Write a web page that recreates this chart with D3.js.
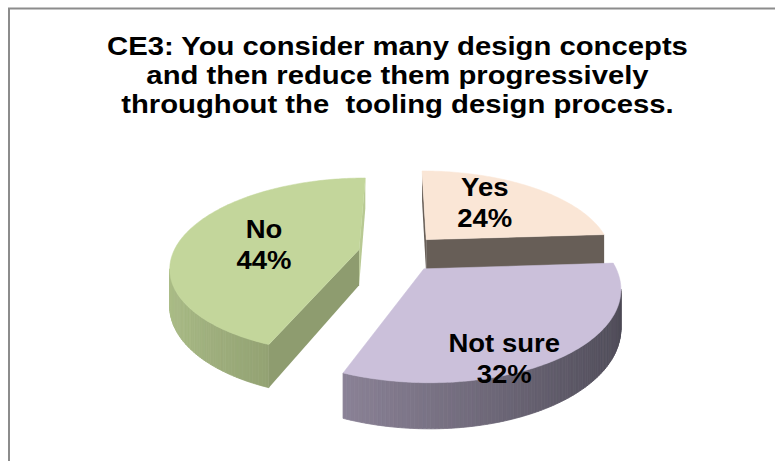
<!DOCTYPE html>
<html><head><meta charset="utf-8">
<script src="https://cdn.jsdelivr.net/npm/d3@7/dist/d3.min.js"></script>
<style>html,body{margin:0;padding:0;background:#fff;} svg{display:block;}</style>
</head><body>
<svg id="chart" width="775" height="461"></svg>
<script>
// ---- data ----
const categories = ["Yes", "Not sure", "No"];
const values = [24, 32, 44];
const percentLabels = ["24%", "32%", "44%"];
const titleLines = [
  "CE3: You consider many design concepts",
  "and then reduce them progressively",
  "throughout the  tooling design process."
];

// ---- styles ----
const topColors   = ["#FAE6D6", "#CBC0DA", "#C3D69B"];
const sideDark    = ["#5E554E", "#4C4955", "#93A273"];
const sideLight   = ["#B9A89A", "#A79CB4", "#ACBE89"];
const sideDomain  = [[0, 1], [0, 1], [0.684, 1]];
const wallStart   = ["#675E57", "#5F5A68", "#8E9C6F"];
const wallEnd     = ["#675E57", "#5F5A68", "#B8C993"];
const drawOrder   = [0, 2, 1];

// ---- layout ----
const L = {cx: 399, cy: 253, A: 186, B: 86, persp: 0.186, T: 36, explode: 0.22,
           labelR: 0.55, titleX: 397.5, titleY: 55, titleStep: 29,
           titleStretch: 1.17, labelStretch: 1.1, labelStep: 31};
const labelNudge = [[-3, -7], [10, 45], [2, 4]];

const svg = d3.select("#chart");
svg.append("rect").attr("width", 775).attr("height", 461).attr("fill", "#fff");
svg.append("rect").attr("x", 9).attr("y", 8.5).attr("width", 900).attr("height", 600)
  .attr("fill", "none").attr("stroke", "#8c8c8c").attr("stroke-width", 2);

// scales for the projected pie plane
const xScale = d3.scaleLinear().domain([-1, 1]).range([L.cx - L.A, L.cx + L.A]);
const zScale = d3.scaleLinear().domain([-1, 1]).range([L.cy + L.B, L.cy - L.B]);
const hScale = d3.scaleLinear().domain([0, 1]).range([0, L.T]);

function proj(X, Z, h) {
  const d = 1 + L.persp * Z;
  return [xScale(X / d), zScale(Z / d) + hScale(h) / d];
}
function area(pts) {
  let s = 0;
  for (let i = 0; i < pts.length; i++) {
    const a = pts[i], b = pts[(i + 1) % pts.length];
    s += a[0] * b[1] - b[0] * a[1];
  }
  return s / 2;
}
const line = d3.line().curve(d3.curveLinearClosed);

const arcs = d3.pie().sort(null).value(d => d).startAngle(0).endAngle(2 * Math.PI)(values);

const gPie = svg.append("g");
drawOrder.forEach(i => {
  const a = arcs[i];
  const mid = (a.startAngle + a.endAngle) / 2;
  const ox = L.explode * Math.sin(mid), oz = L.explode * Math.cos(mid);
  const rim = (t, h) => proj(ox + Math.sin(t), oz + Math.cos(t), h);
  const apex = h => proj(ox, oz, h);
  const g = gPie.append("g");
  const n = Math.max(8, Math.ceil((a.endAngle - a.startAngle) / (Math.PI / 180)));
  const angles = d3.range(n + 1).map(k => a.startAngle + (a.endAngle - a.startAngle) * k / n);
  const shade = d3.scaleLinear().domain(sideDomain[i]).range([sideDark[i], sideLight[i]])
    .interpolate(d3.interpolateRgb).clamp(true);
  // outer side
  for (let k = 0; k < n; k++) {
    const t0 = angles[k], t1 = angles[k + 1];
    const q = [rim(t0, 0), rim(t1, 0), rim(t1, 1), rim(t0, 1)];
    if (area(q) < 0) {
      const tm = (t0 + t1) / 2;
      const c = shade((1 - Math.sin(tm)) / 2);
      g.append("path").attr("d", line(q)).attr("fill", c).attr("stroke", c).attr("stroke-width", 0.8);
    }
  }
  // radial walls
  const ws = [apex(0), rim(a.startAngle, 0), rim(a.startAngle, 1), apex(1)];
  if (area(ws) < 0) g.append("path").attr("d", line(ws)).attr("fill", wallStart[i]);
  const we = [rim(a.endAngle, 0), apex(0), apex(1), rim(a.endAngle, 1)];
  if (area(we) < 0) g.append("path").attr("d", line(we)).attr("fill", wallEnd[i]);
  // top face
  const top = [apex(0)].concat(angles.map(t => rim(t, 0)));
  g.append("path").attr("d", line(top)).attr("fill", topColors[i])
    .attr("stroke", topColors[i]).attr("stroke-width", 0.5);
});

// ---- data labels ----
const gLab = svg.append("g").attr("font-family", "'Liberation Sans', Arial, sans-serif")
  .attr("font-weight", "bold").attr("font-size", 25).attr("fill", "#000")
  .attr("text-anchor", "middle");
arcs.forEach((a, i) => {
  const mid = (a.startAngle + a.endAngle) / 2;
  const r = L.explode + L.labelR;
  const p = proj(r * Math.sin(mid), r * Math.cos(mid), 0);
  const x = p[0] + labelNudge[i][0];
  const cyc = p[1] + labelNudge[i][1];
  const b1 = cyc - 6.5;
  [categories[i], percentLabels[i]].forEach((s, j) => {
    const t = gLab.append("text").attr("x", x).attr("y", b1 + j * L.labelStep).text(s);
    const w = t.node().getComputedTextLength();
    t.attr("textLength", w * L.labelStretch).attr("lengthAdjust", "spacingAndGlyphs");
  });
});

// ---- title ----
const gTitle = svg.append("g").attr("font-family", "'Liberation Sans', Arial, sans-serif")
  .attr("font-weight", "bold").attr("font-size", 25).attr("fill", "#000")
  .attr("text-anchor", "middle").style("white-space", "pre");
titleLines.forEach((s, j) => {
  const t = gTitle.append("text").attr("x", L.titleX).attr("y", L.titleY + j * L.titleStep)
    .attr("xml:space", "preserve").text(s);
  const w = t.node().getComputedTextLength();
  t.attr("textLength", w * L.titleStretch).attr("lengthAdjust", "spacingAndGlyphs");
});
</script>
</body></html>
